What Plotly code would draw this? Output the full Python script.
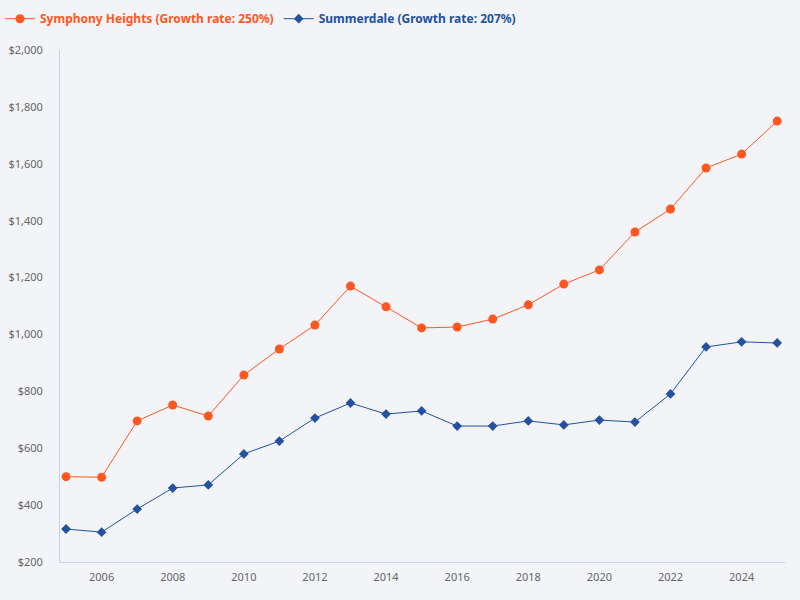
import plotly.graph_objects as go

years = list(range(2005, 2026))
symphony_heights = [500, 498, 696, 752, 713, 857, 949, 1033, 1170, 1097, 1023,
                    1026, 1054, 1104, 1177, 1227, 1360, 1441, 1585, 1634, 1750]
summerdale = [316, 305, 386, 460, 471, 580, 625, 706, 759, 720, 731,
              678, 678, 696, 682, 699, 692, 791, 956, 974, 970]
series_names = ["Symphony Heights (Growth rate: 250%)", "Summerdale (Growth rate: 207%)"]
y_ticks = list(range(200, 2001, 200))

ORANGE = "#ff5722"
BLUE = "#2451a0"
BG = "#f2f4f7"

fig = go.Figure()
fig.add_trace(go.Scatter(
    x=years, y=symphony_heights, mode="lines+markers",
    name=f"<b><span style='color:{ORANGE}'>{series_names[0]}</span></b>",
    line=dict(color=ORANGE, width=1),
    marker=dict(symbol="circle", size=9, color=ORANGE),
))
fig.add_trace(go.Scatter(
    x=years, y=summerdale, mode="lines+markers",
    name=f"<b><span style='color:{BLUE}'>{series_names[1]}</span></b>",
    line=dict(color=BLUE, width=1),
    marker=dict(symbol="diamond", size=7.5, color=BLUE),
))

fig.update_layout(
    width=800, height=600,
    paper_bgcolor=BG, plot_bgcolor=BG,
    font=dict(family="Noto Sans, Open Sans, sans-serif", size=11, color="#666666"),
    margin=dict(l=60, r=15, t=50, b=38),
    legend=dict(orientation="h", x=-0.008, y=0.993, xref="container", yref="container",
                xanchor="left", yanchor="top", font=dict(size=12),
                itemwidth=30, bgcolor="rgba(0,0,0,0)"),
    showlegend=True,
)
fig.update_xaxes(
    range=[2004.83, 2025.22], tickmode="array", tickvals=list(range(2006, 2025, 2)),
    automargin=False,
    showgrid=False, zeroline=False, showline=True, linecolor="#c5d3ea", linewidth=1,
    ticks="", ticklabelstandoff=5, tickfont=dict(size=11, color="#666666"),
)
fig.update_yaxes(
    range=[200, 2000], tickmode="array", tickvals=y_ticks,
    ticktext=[f"${v:,}" for v in y_ticks], automargin=False,
    showgrid=False, zeroline=False, showline=True, linecolor="#c5d3ea", linewidth=1,
    ticks="", ticklabelstandoff=14, tickfont=dict(size=11, color="#666666"),
)

fig.write_html("out.html", config={"displayModeBar": False},
               post_script="document.body.style.margin='0';"
               f"document.body.style.background='{BG}';")
